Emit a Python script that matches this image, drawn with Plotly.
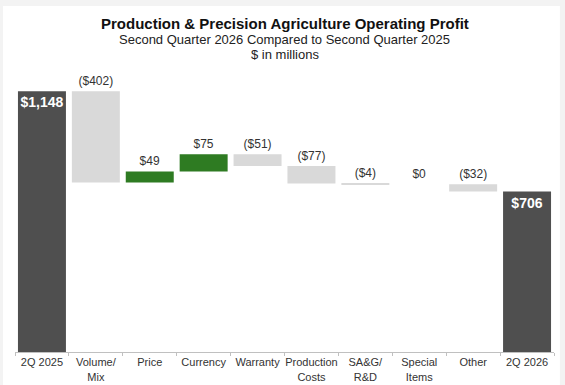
import plotly.graph_objects as go

# Operating profit bridge, $ in millions
categories = ["2Q 2025", "Volume/<br>Mix", "Price", "Currency", "Warranty",
              "Production<br>Costs", "SA&G/<br>R&D", "Special<br>Items", "Other", "2Q 2026"]
start_total = 1148
changes = [-402, 49, 75, -51, -77, -4, 0, -32]
end_total = 706

DARK = "#4f4f4f"
LIGHT = "#d9d9d9"
GREEN = "#2e7b22"
LABEL = "#333333"

# Floating bars: each change sits on the running total
bases, heights, colors, texts, positions, tcolors, tsizes = [], [], [], [], [], [], []
bases.append(0); heights.append(start_total); colors.append(DARK)
texts.append(f"<b>${start_total:,}</b>"); positions.append("inside")
tcolors.append("white"); tsizes.append(14)
running = start_total
for c in changes:
    new = running + c
    bases.append(min(running, new))
    heights.append(abs(c))
    colors.append(GREEN if c > 0 else LIGHT)
    label = f"${c:,}" if c >= 0 else f"(${-c:,})"
    texts.append(f'<span style="color:{LABEL}">{label}</span>')
    positions.append("outside")
    tcolors.append(LABEL); tsizes.append(12)
    running = new
bases.append(0); heights.append(end_total); colors.append(DARK)
texts.append(f"<b>${end_total:,}</b>"); positions.append("inside")
tcolors.append("white"); tsizes.append(14)

FONT = "Liberation Sans, Arial, sans-serif"

fig = go.Figure(go.Bar(
    x=categories, y=heights, base=bases,
    marker=dict(color=colors, line=dict(width=0)),
    text=texts, textposition=positions, insidetextanchor="end", textangle=0,
    textfont=dict(family=FONT, size=tsizes, color=tcolors),
    insidetextfont=dict(family=FONT, size=14, color="white"),
    outsidetextfont=dict(family=FONT, size=12, color=LABEL),
    constraintext="none", cliponaxis=False, hoverinfo="skip",
))

# Light frame around the white card
fig.add_shape(type="rect", xref="paper", yref="paper", x0=-0.0223, x1=1.011,
              y0=-0.2, y1=1.218, fillcolor="white", line=dict(width=0), layer="below")

fig.add_annotation(text="<b>Production & Precision Agriculture Operating Profit</b>",
                   xref="paper", yref="paper", x=0.5, y=1.155, showarrow=False,
                   yanchor="middle", font=dict(family=FONT, size=15, color="#111111"))
fig.add_annotation(text="Second Quarter 2026 Compared to Second Quarter 2025",
                   xref="paper", yref="paper", x=0.5, y=1.099, showarrow=False,
                   yanchor="middle", font=dict(family=FONT, size=13, color="#222222"))
fig.add_annotation(text="$ in millions",
                   xref="paper", yref="paper", x=0.5, y=1.046, showarrow=False,
                   yanchor="middle", font=dict(family=FONT, size=13, color="#222222"))

fig.update_layout(
    width=565, height=385,
    margin=dict(l=15, r=11, t=68, b=33, autoexpand=False),
    paper_bgcolor="#f3f3f3", plot_bgcolor="white",
    showlegend=False, bargap=0.11,
    font=dict(family=FONT),
    xaxis=dict(showline=True, linecolor="#c0c0c0", linewidth=1, automargin=False,
               ticks="outside", tickson="boundaries", ticklen=3, tickcolor="#c0c0c0",
               tickangle=0, tickfont=dict(size=11, color="#333333"),
               showgrid=False, fixedrange=True),
    yaxis=dict(range=[0, 1250], visible=False, showgrid=False, zeroline=False,
               fixedrange=True, automargin=False),
)

fig.write_html("out.html")
